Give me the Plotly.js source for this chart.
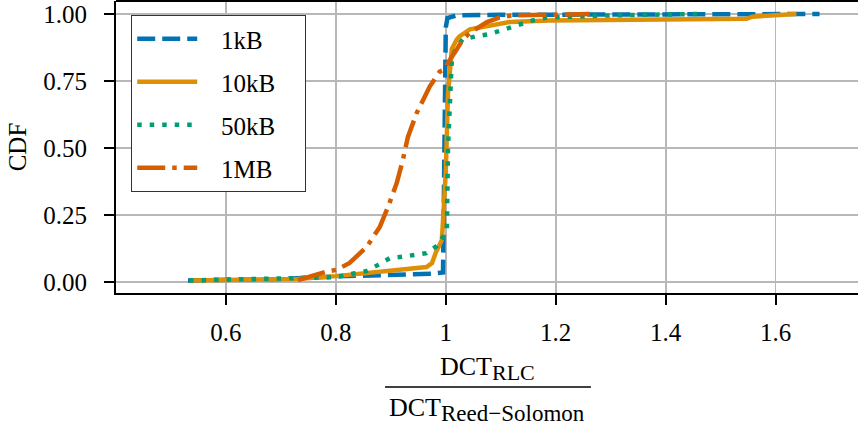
<!DOCTYPE html>
<html>
<head>
<meta charset="utf-8">
<script src="https://cdn.plot.ly/plotly-3.0.1.min.js"></script>
<style>html,body{margin:0;padding:0;background:#fff;}#chart{width:858px;height:429px;}</style>
</head>
<body>
<div id="chart"></div>
<script>
// Series names
const seriesNames = ["1kB", "10kB", "50kB", "1MB"];

// 1kB
const x1kB = [0.531, 0.7, 0.8, 0.9, 0.975, 0.995, 0.997, 1.0, 1.003, 1.02, 1.1, 1.3, 1.68];
const y1kB = [0.005, 0.01, 0.02, 0.025, 0.03, 0.035, 0.5, 0.95, 0.985, 0.995, 0.997, 0.999, 1.0];

// 10kB
const x10kB = [0.535, 0.73, 0.8, 0.916, 0.965, 0.975, 0.982, 0.993, 1.0, 1.004, 1.011, 1.02, 1.025, 1.044, 1.062, 1.08, 1.116, 1.189, 1.547, 1.558, 1.638];
const y10kB = [0.005, 0.01, 0.021, 0.045, 0.055, 0.07, 0.11, 0.156, 0.41, 0.7, 0.87, 0.905, 0.916, 0.943, 0.95, 0.96, 0.97, 0.976, 0.982, 0.99, 1.0];

// 50kB
const x50kB = [0.533, 0.7, 0.8, 0.835, 0.856, 0.876, 0.898, 0.92, 0.944, 0.965, 0.984, 1.002, 1.004, 1.011, 1.02, 1.031, 1.056, 1.076, 1.095, 1.116, 1.138, 1.158, 1.184, 1.3, 1.462];
const y50kB = [0.005, 0.01, 0.017, 0.032, 0.04, 0.062, 0.088, 0.093, 0.1, 0.107, 0.134, 0.19, 0.5, 0.83, 0.88, 0.905, 0.917, 0.924, 0.935, 0.95, 0.965, 0.976, 0.987, 0.995, 1.0];

// 1MB
const x1MB = [0.731, 0.78, 0.802, 0.825, 0.856, 0.88, 0.895, 0.911, 0.922, 0.931, 0.947, 0.958, 0.971, 0.989, 0.995, 1.02, 1.031, 1.044, 1.062, 1.075, 1.098, 1.122, 1.22, 1.262];
const y1MB = [0.006, 0.036, 0.045, 0.07, 0.13, 0.205, 0.28, 0.37, 0.456, 0.54, 0.63, 0.68, 0.73, 0.785, 0.79, 0.868, 0.905, 0.93, 0.955, 0.97, 0.987, 0.995, 0.998, 1.0];

// Tick labels
const xTickVals = [0.6, 0.8, 1.0, 1.2, 1.4, 1.6];
const xTickText = ["0.6", "0.8", "1", "1.2", "1.4", "1.6"];
const yTickVals = [0, 0.25, 0.5, 0.75, 1.0];
const yTickText = ["0.00", "0.25", "0.50", "0.75", "1.00"];

const colors = ["#0173b2", "#de8f05", "#029e73", "#d55e00"];
const dashes = ["18px,7px", "solid", "4.5px,8px", "28px,7px,4.5px,7px"];
const xs = [x1kB, x10kB, x50kB, x1MB];
const ys = [y1kB, y10kB, y50kB, y1MB];

const FONT = "Liberation Serif, Times New Roman, serif";
const NB = "\u00a0";

const traces = seriesNames.map((n, i) => ({
  x: xs[i], y: ys[i], name: NB + NB + NB + n + NB + NB + NB + NB, type: "scatter", mode: "lines",
  legendgroup: n,
  line: {color: colors[i], width: 4.5, dash: dashes[i]}
}));

const layout = {
  width: 858, height: 429,
  margin: {l: 116, r: 0, t: 1, b: 136},
  paper_bgcolor: "#fff", plot_bgcolor: "#fff",
  font: {family: FONT, size: 25, color: "#000"},
  showlegend: true,
  legend: {
    x: 0.0205, y: 0.952, xanchor: "left", yanchor: "top",
    bgcolor: "#fff", bordercolor: "#333", borderwidth: 1,
    font: {family: FONT, size: 25, color: "#000"},
    traceorder: "grouped", tracegroupgap: 7.5, itemwidth: 60
  },
  xaxis: {
    range: [0.4, 1.75], showgrid: true, gridcolor: "#b8b8b8", gridwidth: 1.8,
    tickvals: xTickVals, ticktext: xTickText,
    ticks: "outside", ticklen: 10, tickwidth: 2, tickcolor: "#000",
    showline: true, linecolor: "#000", linewidth: 2, zeroline: false,
    ticklabelstandoff: 6
  },
  yaxis: {
    range: [-0.042, 1.0486], showgrid: true, gridcolor: "#b8b8b8", gridwidth: 1.8,
    tickvals: yTickVals, ticktext: yTickText,
    ticks: "outside", ticklen: 10, tickwidth: 2, tickcolor: "#000",
    showline: true, linecolor: "#000", linewidth: 2, zeroline: false,
    ticklabelstandoff: 12,
    title: {text: "CDF", font: {family: FONT, size: 25}, standoff: 10}
  },
  shapes: [
    {type: "line", xref: "paper", yref: "paper", x0: 0, x1: 1, y0: 1, y1: 1, line: {color: "#000", width: 2}},
    {type: "line", xref: "paper", yref: "paper", x0: 0.3625, x1: 0.640, y0: -0.322, y1: -0.322, line: {color: "#000", width: 1.3}}
  ],
  annotations: [
    {xref: "paper", yref: "paper", x: 0.5, y: -0.258, xanchor: "center", yanchor: "middle", showarrow: false,
     text: "DCT<sub><span style=\"font-size:22px\">RLC</span></sub>", font: {family: FONT, size: 26, color: "#000"}},
    {xref: "paper", yref: "paper", x: 0.5, y: -0.4, xanchor: "center", yanchor: "middle", showarrow: false,
     text: "DCT<sub><span style=\"font-size:23px\">Reed−Solomon</span></sub>", font: {family: FONT, size: 26, color: "#000"}}
  ]
};

Plotly.newPlot("chart", traces, layout, {displayModeBar: false, staticPlot: true});
</script>
</body>
</html>
